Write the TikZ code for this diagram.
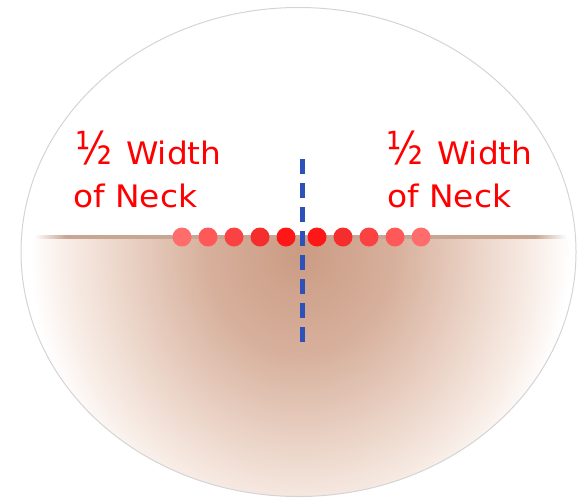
\documentclass[tikz,border=0pt]{standalone}
\usepackage{graphicx}
\usepackage{fontspec}
\setmainfont{DejaVu Sans}
\definecolor{brownA}{RGB}{203,155,131}
\definecolor{brownB}{RGB}{215,176,156}
\definecolor{brownC}{RGB}{241,223,213}
\definecolor{brownD}{RGB}{250,241,236}
\definecolor{linec}{RGB}{200,166,148}
\definecolor{dashblue}{RGB}{45,80,185}
\definecolor{dotA}{RGB}{255,108,108}
\definecolor{dotB}{RGB}{255,88,88}
\definecolor{dotC}{RGB}{250,66,66}
\definecolor{dotD}{RGB}{245,45,45}
\definecolor{dotE}{RGB}{255,22,22}
\definecolor{outline}{RGB}{212,212,212}
\pgfdeclareradialshading{neckshade}{\pgfpoint{0bp}{0bp}}{%
  color(0bp)=(brownA); color(8.75bp)=(brownB); color(18.75bp)=(brownC);
  color(22.5bp)=(brownD); color(25bp)=(white); color(50bp)=(white)}
\pgfdeclarehorizontalshading{hlineshade}{100bp}{%
  color(0bp)=(white); color(25bp)=(white); color(28bp)=(linec);
  color(72bp)=(linec); color(75bp)=(white); color(100bp)=(white)}
\tikzset{
  dot/.style={circle, inner sep=0pt, minimum size=19pt, draw=none},
  label/.style={text=red, anchor=base west, inner sep=0pt,
    font=\fontsize{31}{40}\selectfont},
  dashline/.style={draw=dashblue, line width=4.5pt, dash pattern=on 15pt off 9pt},
}
\newcommand{\half}{\scalebox{1.23}[1.46]{½}}
\newcommand{\wideB}[1]{\scalebox{1.06}[1]{#1}}
\begin{document}
\begin{tikzpicture}[x=1pt,y=-1pt]
  \useasboundingbox (0,0) rectangle (577,498);
  % lower half shading
  \begin{scope}
    \clip (298.5,252) ellipse (277.5 and 244.5);
    \clip (0,237) rectangle (577,498);
    \shade[shading=neckshade] (300,250) ellipse (270 and 300);
  \end{scope}
  % outline
  \draw[outline, line width=1pt] (298.5,252) ellipse (277.5 and 244.5);
  % horizontal neck line
  \coordinate (hl) at (34,235.5);
  \coordinate (hr) at (567,238.8);
  \shade[shading=hlineshade] (hl) rectangle (hr);
  % dots
  \node[dot, fill=dotA] (d1) at (182,237) {};
  \node[dot, fill=dotB] (d2) at (208,237) {};
  \node[dot, fill=dotC] (d3) at (234,237) {};
  \node[dot, fill=dotD] (d4) at (260,237) {};
  \node[dot, fill=dotE] (d5) at (286,237) {};
  \node[dot, fill=dotE] (d6) at (317,237) {};
  \node[dot, fill=dotD] (d7) at (343,237) {};
  \node[dot, fill=dotC] (d8) at (369,237) {};
  \node[dot, fill=dotB] (d9) at (395,237) {};
  \node[dot, fill=dotA] (d10) at (421,237) {};
  % blue dashed centre line
  \coordinate (bt) at (302.5,159);
  \coordinate (bb) at (302.5,343);
  \draw[dashline] (bt) -- (bb);
  % labels
  \node[label] (l1) at (75,164) {\half\hspace{14pt}\wideB{Width}};
  \node[label] (l2) at (73,207) {\wideB{of Neck}};
  \node[label] (r1) at (386,164) {\half\hspace{14pt}\wideB{Width}};
  \node[label] (r2) at (387,207) {\wideB{of Neck}};
\end{tikzpicture}
\end{document}
